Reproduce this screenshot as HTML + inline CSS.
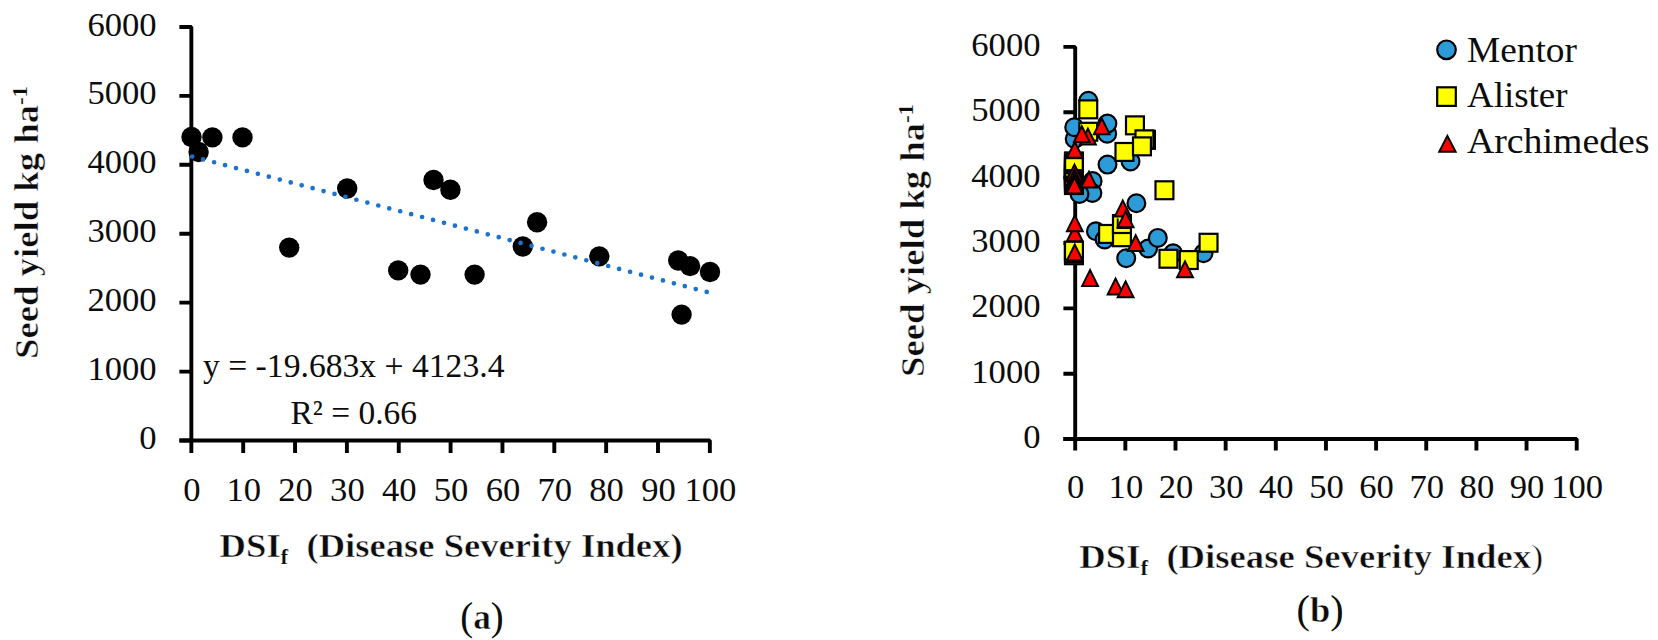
<!DOCTYPE html>
<html lang="en"><head><meta charset="utf-8"><title>Seed yield vs DSI</title>
<style>
html,body{margin:0;padding:0;background:#fff;}
body{width:1658px;height:640px;overflow:hidden;}
svg{display:block;}
text{font-family:"Liberation Serif", serif;fill:#0c0c0c;white-space:pre;}
.b{font-weight:bold;stroke:#fff;stroke-width:0.5px;paint-order:fill stroke;}
.s{stroke-width:0.2px;}
.ax{stroke:#000;stroke-width:3.9;fill:none;stroke-linecap:butt;stroke-linejoin:bevel;}
.mc{fill:#2e9bd9;stroke:#000;stroke-width:2.2;}
.ms{fill:#ffff00;stroke:#000;stroke-width:2.2;}
.mt{fill:#ff0000;stroke:#000;stroke-width:2;stroke-linejoin:miter;}
</style></head><body>
<svg width="1658" height="640" viewBox="0 0 1658 640">
<rect x="0" y="0" width="1658" height="640" fill="#ffffff"/>
<g id="chart-a">
<path class="ax" d="M179.4 26.98H191.35V453.1"/>
<path class="ax" d="M179.4 440.50H709.85V453.1"/>
<path class="ax" d="M179.4 440.50H191.35M179.4 371.58H191.35M179.4 302.66H191.35M179.4 233.74H191.35M179.4 164.82H191.35M179.4 95.90H191.35M243.20 440.50V453.1M295.05 440.50V453.1M346.90 440.50V453.1M398.75 440.50V453.1M450.60 440.50V453.1M502.45 440.50V453.1M554.30 440.50V453.1M606.15 440.50V453.1M658.00 440.50V453.1"/>
<text x="156.6" y="449.0" font-size="33.6" text-anchor="end" textLength="17.3" lengthAdjust="spacingAndGlyphs">0</text>
<text x="156.6" y="380.1" font-size="33.6" text-anchor="end" textLength="69.2" lengthAdjust="spacingAndGlyphs">1000</text>
<text x="156.6" y="311.2" font-size="33.6" text-anchor="end" textLength="69.2" lengthAdjust="spacingAndGlyphs">2000</text>
<text x="156.6" y="242.2" font-size="33.6" text-anchor="end" textLength="69.2" lengthAdjust="spacingAndGlyphs">3000</text>
<text x="156.6" y="173.3" font-size="33.6" text-anchor="end" textLength="69.2" lengthAdjust="spacingAndGlyphs">4000</text>
<text x="156.6" y="104.4" font-size="33.6" text-anchor="end" textLength="69.2" lengthAdjust="spacingAndGlyphs">5000</text>
<text x="156.6" y="35.5" font-size="33.6" text-anchor="end" textLength="69.2" lengthAdjust="spacingAndGlyphs">6000</text>
<text x="191.8" y="501.0" font-size="33.6" text-anchor="middle" textLength="17.3" lengthAdjust="spacingAndGlyphs">0</text>
<text x="243.7" y="501.0" font-size="33.6" text-anchor="middle" textLength="34.6" lengthAdjust="spacingAndGlyphs">10</text>
<text x="295.6" y="501.0" font-size="33.6" text-anchor="middle" textLength="34.6" lengthAdjust="spacingAndGlyphs">20</text>
<text x="347.4" y="501.0" font-size="33.6" text-anchor="middle" textLength="34.6" lengthAdjust="spacingAndGlyphs">30</text>
<text x="399.2" y="501.0" font-size="33.6" text-anchor="middle" textLength="34.6" lengthAdjust="spacingAndGlyphs">40</text>
<text x="451.1" y="501.0" font-size="33.6" text-anchor="middle" textLength="34.6" lengthAdjust="spacingAndGlyphs">50</text>
<text x="503.0" y="501.0" font-size="33.6" text-anchor="middle" textLength="34.6" lengthAdjust="spacingAndGlyphs">60</text>
<text x="554.8" y="501.0" font-size="33.6" text-anchor="middle" textLength="34.6" lengthAdjust="spacingAndGlyphs">70</text>
<text x="606.6" y="501.0" font-size="33.6" text-anchor="middle" textLength="34.6" lengthAdjust="spacingAndGlyphs">80</text>
<text x="658.5" y="501.0" font-size="33.6" text-anchor="middle" textLength="34.6" lengthAdjust="spacingAndGlyphs">90</text>
<text x="710.4" y="501.0" font-size="33.6" text-anchor="middle" textLength="51.9" lengthAdjust="spacingAndGlyphs">100</text>
<circle cx="191.5" cy="137.0" r="10.2" fill="#000"/>
<circle cx="198.6" cy="152.0" r="10.2" fill="#000"/>
<circle cx="212.4" cy="137.4" r="10.2" fill="#000"/>
<circle cx="242.5" cy="137.4" r="10.2" fill="#000"/>
<circle cx="289.2" cy="247.6" r="10.2" fill="#000"/>
<circle cx="347.2" cy="188.5" r="10.2" fill="#000"/>
<circle cx="398.2" cy="270.4" r="10.2" fill="#000"/>
<circle cx="420.5" cy="274.6" r="10.2" fill="#000"/>
<circle cx="433.5" cy="180.0" r="10.2" fill="#000"/>
<circle cx="450.4" cy="189.7" r="10.2" fill="#000"/>
<circle cx="474.6" cy="274.6" r="10.2" fill="#000"/>
<circle cx="522.8" cy="246.5" r="10.2" fill="#000"/>
<circle cx="537.1" cy="222.3" r="10.2" fill="#000"/>
<circle cx="599.3" cy="256.4" r="10.2" fill="#000"/>
<circle cx="678.2" cy="260.5" r="10.2" fill="#000"/>
<circle cx="690.1" cy="266.1" r="10.2" fill="#000"/>
<circle cx="710.0" cy="272.0" r="10.2" fill="#000"/>
<circle cx="681.6" cy="314.6" r="10.2" fill="#000"/>
<path d="M192.2 156.5L708 292.3" fill="none" stroke="#1c71d1" stroke-width="4.7" stroke-linecap="round" stroke-dasharray="0 11.32"/>
<text x="203.0" y="377.0" font-size="33.6" textLength="301.5" lengthAdjust="spacingAndGlyphs">y = -19.683x + 4123.4</text>
<text x="290.5" y="424.0" font-size="33.6" textLength="126.5" lengthAdjust="spacingAndGlyphs">R² = 0.66</text>
<text x="219.6" y="557.0" font-size="33.8" class="b" textLength="463" lengthAdjust="spacingAndGlyphs">DSI<tspan class="s" font-size="21" dy="6.5">f</tspan><tspan dy="-6.5">  (Disease Severity Index)</tspan></text>
<text transform="translate(37.5 359) rotate(-90)" x="0" y="0" font-size="33.8" class="b" textLength="273" lengthAdjust="spacingAndGlyphs">Seed yield kg ha<tspan class="s" font-size="21" dy="-11">-1</tspan></text>
<text x="460.3" y="630.0" font-size="39.5" textLength="43.4" lengthAdjust="spacingAndGlyphs">(<tspan class="b" font-size="36" dy="-1">a</tspan><tspan dy="1">)</tspan></text>
</g>
<g id="chart-b">
<path class="ax" d="M1063.4 46.89H1075.20V450.4"/>
<path class="ax" d="M1063.4 439.05H1576.70V450.4"/>
<path class="ax" d="M1063.4 439.05H1075.20M1063.4 373.69H1075.20M1063.4 308.33H1075.20M1063.4 242.97H1075.20M1063.4 177.61H1075.20M1063.4 112.25H1075.20M1125.35 439.05V450.4M1175.50 439.05V450.4M1225.65 439.05V450.4M1275.80 439.05V450.4M1325.95 439.05V450.4M1376.10 439.05V450.4M1426.25 439.05V450.4M1476.40 439.05V450.4M1526.55 439.05V450.4"/>
<text x="1040.5" y="447.9" font-size="33.6" text-anchor="end" textLength="17.3" lengthAdjust="spacingAndGlyphs">0</text>
<text x="1040.5" y="382.6" font-size="33.6" text-anchor="end" textLength="69.2" lengthAdjust="spacingAndGlyphs">1000</text>
<text x="1040.5" y="317.2" font-size="33.6" text-anchor="end" textLength="69.2" lengthAdjust="spacingAndGlyphs">2000</text>
<text x="1040.5" y="251.9" font-size="33.6" text-anchor="end" textLength="69.2" lengthAdjust="spacingAndGlyphs">3000</text>
<text x="1040.5" y="186.5" font-size="33.6" text-anchor="end" textLength="69.2" lengthAdjust="spacingAndGlyphs">4000</text>
<text x="1040.5" y="121.2" font-size="33.6" text-anchor="end" textLength="69.2" lengthAdjust="spacingAndGlyphs">5000</text>
<text x="1040.5" y="55.8" font-size="33.6" text-anchor="end" textLength="69.2" lengthAdjust="spacingAndGlyphs">6000</text>
<text x="1075.7" y="497.7" font-size="33.6" text-anchor="middle" textLength="17.3" lengthAdjust="spacingAndGlyphs">0</text>
<text x="1125.9" y="497.7" font-size="33.6" text-anchor="middle" textLength="34.6" lengthAdjust="spacingAndGlyphs">10</text>
<text x="1176.0" y="497.7" font-size="33.6" text-anchor="middle" textLength="34.6" lengthAdjust="spacingAndGlyphs">20</text>
<text x="1226.2" y="497.7" font-size="33.6" text-anchor="middle" textLength="34.6" lengthAdjust="spacingAndGlyphs">30</text>
<text x="1276.3" y="497.7" font-size="33.6" text-anchor="middle" textLength="34.6" lengthAdjust="spacingAndGlyphs">40</text>
<text x="1326.5" y="497.7" font-size="33.6" text-anchor="middle" textLength="34.6" lengthAdjust="spacingAndGlyphs">50</text>
<text x="1376.6" y="497.7" font-size="33.6" text-anchor="middle" textLength="34.6" lengthAdjust="spacingAndGlyphs">60</text>
<text x="1426.8" y="497.7" font-size="33.6" text-anchor="middle" textLength="34.6" lengthAdjust="spacingAndGlyphs">70</text>
<text x="1476.9" y="497.7" font-size="33.6" text-anchor="middle" textLength="34.6" lengthAdjust="spacingAndGlyphs">80</text>
<text x="1527.0" y="497.7" font-size="33.6" text-anchor="middle" textLength="34.6" lengthAdjust="spacingAndGlyphs">90</text>
<text x="1577.2" y="497.7" font-size="33.6" text-anchor="middle" textLength="51.9" lengthAdjust="spacingAndGlyphs">100</text>
<circle class="mc" cx="1088.3" cy="100.7" r="8.9"/>
<circle class="mc" cx="1074.7" cy="139.0" r="8.9"/>
<circle class="mc" cx="1074.2" cy="127.2" r="8.9"/>
<circle class="mc" cx="1107.2" cy="133.8" r="8.9"/>
<circle class="mc" cx="1107.4" cy="123.6" r="8.9"/>
<circle class="mc" cx="1107.5" cy="164.6" r="8.9"/>
<circle class="mc" cx="1130.5" cy="161.5" r="8.9"/>
<circle class="mc" cx="1092.6" cy="181.0" r="8.9"/>
<circle class="mc" cx="1092.4" cy="193.0" r="8.9"/>
<circle class="mc" cx="1079.5" cy="194.0" r="8.9"/>
<circle class="mc" cx="1136.4" cy="203.2" r="8.9"/>
<circle class="mc" cx="1095.9" cy="231.3" r="8.9"/>
<circle class="mc" cx="1104.6" cy="239.5" r="8.9"/>
<circle class="mc" cx="1126.2" cy="258.2" r="8.9"/>
<circle class="mc" cx="1148.1" cy="248.5" r="8.9"/>
<circle class="mc" cx="1157.8" cy="237.9" r="8.9"/>
<circle class="mc" cx="1173.1" cy="253.2" r="8.9"/>
<circle class="mc" cx="1203.5" cy="253.2" r="8.9"/>
<rect class="ms" x="1079.3" y="100.4" width="17.9" height="17.9"/>
<rect class="ms" x="1079.3" y="122.8" width="17.9" height="17.9"/>
<rect class="ms" x="1126.0" y="116.4" width="17.9" height="17.9"/>
<rect class="ms" x="1137.0" y="130.9" width="17.9" height="17.9"/>
<rect class="ms" x="1135.5" y="130.4" width="17.9" height="17.9"/>
<rect class="ms" x="1115.5" y="143.0" width="17.9" height="17.9"/>
<rect class="ms" x="1133.0" y="137.4" width="17.9" height="17.9"/>
<rect class="ms" x="1155.5" y="181.3" width="17.9" height="17.9"/>
<rect class="ms" x="1065.0" y="176.1" width="17.9" height="17.9"/>
<rect class="ms" x="1065.0" y="174.0" width="17.9" height="17.9"/>
<rect class="ms" x="1065.0" y="171.9" width="17.9" height="17.9"/>
<rect class="ms" x="1065.0" y="169.8" width="17.9" height="17.9"/>
<rect class="ms" x="1065.0" y="167.7" width="17.9" height="17.9"/>
<rect class="ms" x="1065.0" y="165.6" width="17.9" height="17.9"/>
<rect class="ms" x="1065.0" y="163.5" width="17.9" height="17.9"/>
<rect class="ms" x="1065.0" y="161.4" width="17.9" height="17.9"/>
<rect class="ms" x="1065.0" y="159.2" width="17.9" height="17.9"/>
<rect class="ms" x="1065.0" y="157.2" width="17.9" height="17.9"/>
<rect class="ms" x="1065.0" y="155.1" width="17.9" height="17.9"/>
<rect class="ms" x="1065.0" y="153.0" width="17.9" height="17.9"/>
<rect x="1064" y="151.4" width="19.9" height="43" fill="#000"/>
<rect x="1066.2" y="159.2" width="15.5" height="9.9" fill="#ffff00"/>
<rect x="1066.2" y="174.2" width="1.6" height="1.4" fill="#d8d800"/><rect x="1066.2" y="182.5" width="1.6" height="1.4" fill="#d8d800"/>
<rect class="ms" x="1099.1" y="225.0" width="17.9" height="17.9"/>
<rect class="ms" x="1113.0" y="228.3" width="17.9" height="17.9"/>
<rect class="ms" x="1113.0" y="215.1" width="17.9" height="17.9"/>
<rect class="ms" x="1065.0" y="246.3" width="17.9" height="17.9"/>
<rect class="ms" x="1065.0" y="244.1" width="17.9" height="17.9"/>
<rect class="ms" x="1065.0" y="241.7" width="17.9" height="17.9"/>
<rect class="ms" x="1159.5" y="249.8" width="17.9" height="17.9"/>
<rect class="ms" x="1179.8" y="251.1" width="17.9" height="17.9"/>
<rect class="ms" x="1199.6" y="233.8" width="17.9" height="17.9"/>
<path d="M1117.7 218.6V227.9H1131" fill="none" stroke="#000" stroke-width="2"/>
<path class="mt" d="M1101.8 118.4L1109.7 134.2L1093.9 134.2Z"/>
<path class="mt" d="M1087.9 128.8L1095.8 144.6L1080.0 144.6Z"/>
<path class="mt" d="M1081.8 126.3L1089.7 142.1L1073.9 142.1Z"/>
<path class="mt" d="M1074.8 142.0L1082.7 157.8L1066.9 157.8Z"/>
<path class="mt" d="M1074.5 164.6L1082.4 180.4L1066.6 180.4Z"/>
<path class="mt" d="M1074.5 169.8L1082.4 185.6L1066.6 185.6Z"/>
<path class="mt" d="M1074.5 174.0L1082.4 189.8L1066.6 189.8Z"/>
<path class="mt" d="M1074.5 177.6L1082.4 193.4L1066.6 193.4Z"/>
<path class="mt" d="M1089.0 171.8L1096.9 187.6L1081.1 187.6Z"/>
<path class="mt" d="M1122.8 200.6L1130.7 216.4L1114.9 216.4Z"/>
<path class="mt" d="M1125.6 211.4L1133.5 227.2L1117.7 227.2Z"/>
<path class="mt" d="M1074.8 225.4L1082.7 241.2L1066.9 241.2Z"/>
<path class="mt" d="M1074.8 215.4L1082.7 231.2L1066.9 231.2Z"/>
<path class="mt" d="M1074.8 244.6L1082.7 260.4L1066.9 260.4Z"/>
<path class="mt" d="M1135.7 235.2L1143.6 251.0L1127.8 251.0Z"/>
<path class="mt" d="M1185.0 261.4L1192.9 277.2L1177.1 277.2Z"/>
<path class="mt" d="M1090.1 270.1L1098.0 285.9L1082.2 285.9Z"/>
<path class="mt" d="M1115.6 278.6L1123.5 294.4L1107.7 294.4Z"/>
<path class="mt" d="M1125.6 281.4L1133.5 297.2L1117.7 297.2Z"/>
<circle class="mc" cx="1446.5" cy="49.8" r="9.3"/>
<rect class="ms" x="1437.2" y="87.3" width="18.6" height="18.6"/>
<path class="mt" d="M1447.4 135.9L1455.6 151.8L1439.2 151.8Z"/>
<text x="1467.0" y="61.7" font-size="35.0" textLength="110.0" lengthAdjust="spacingAndGlyphs">Mentor</text>
<text x="1467.0" y="106.8" font-size="35.0" textLength="100.5" lengthAdjust="spacingAndGlyphs">Alister</text>
<text x="1467.0" y="152.9" font-size="35.0" textLength="182.5" lengthAdjust="spacingAndGlyphs">Archimedes</text>
<text x="1079.3" y="568.0" font-size="33.8" class="b" textLength="464" lengthAdjust="spacingAndGlyphs">DSI<tspan class="s" font-size="21" dy="6.5">f</tspan><tspan dy="-6.5">  (Disease Severity Index</tspan><tspan font-weight="normal">)</tspan></text>
<text transform="translate(924 377) rotate(-90)" x="0" y="0" font-size="33.8" class="b" textLength="273" lengthAdjust="spacingAndGlyphs">Seed yield kg ha<tspan class="s" font-size="21" dy="-11">-1</tspan></text>
<text x="1296.6" y="623.0" font-size="39.5" textLength="47" lengthAdjust="spacingAndGlyphs">(<tspan class="b" font-size="36" dy="-1">b</tspan><tspan dy="1">)</tspan></text>
</g>
</svg>
</body></html>
